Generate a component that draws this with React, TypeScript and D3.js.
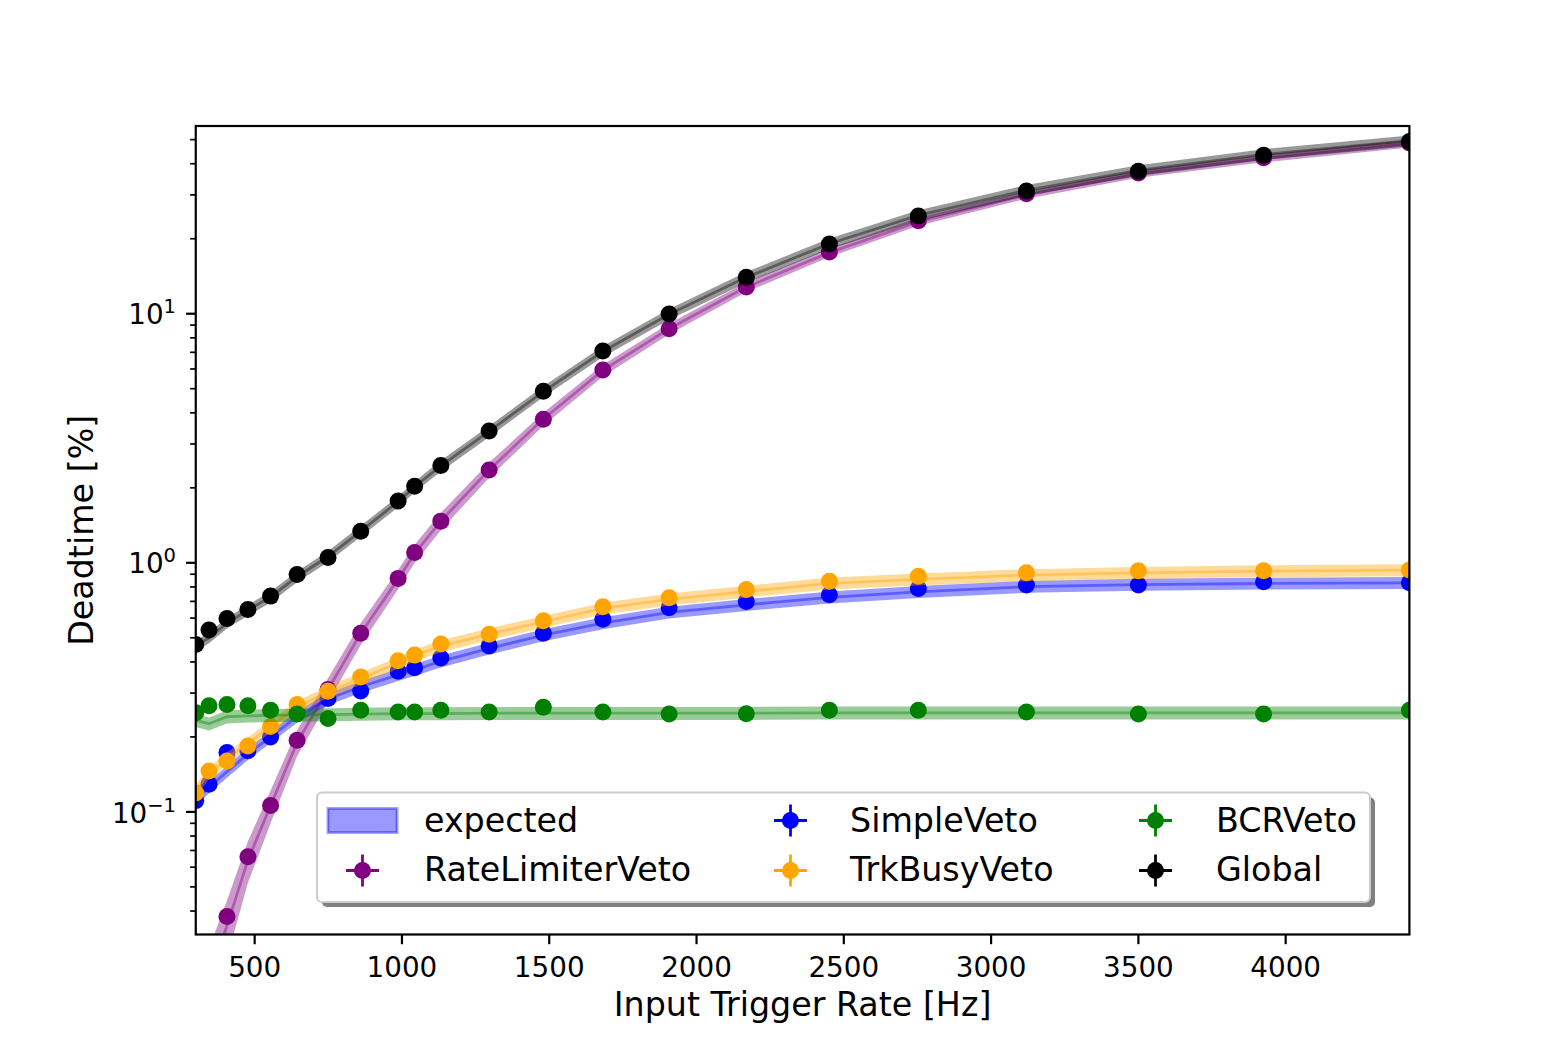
// @ts-nocheck
import React, { useRef, useEffect } from "react";
import * as d3 from "d3";

// input trigger rate [Hz]
const rates = [300, 345, 406, 477, 554, 644, 749, 860, 987, 1043, 1132, 1296, 1480, 1682, 1907, 2169, 2451, 2753, 3120, 3500, 3925, 4420];

// measured deadtime [%]
const rateLimiterVeto = [0.015, 0.024, 0.038, 0.066, 0.106, 0.194, 0.31, 0.521, 0.866, 1.1, 1.47, 2.36, 3.77, 5.94, 8.71, 12.8, 17.7, 23.6, 30.3, 36.7, 42.3, 48.5];
const simpleVeto = [0.111, 0.129, 0.173, 0.176, 0.2, 0.25, 0.285, 0.306, 0.367, 0.379, 0.415, 0.464, 0.521, 0.593, 0.66, 0.7, 0.745, 0.789, 0.814, 0.814, 0.839, 0.831];
const trkBusyVeto = [0.119, 0.146, 0.16, 0.184, 0.22, 0.27, 0.305, 0.348, 0.404, 0.426, 0.472, 0.517, 0.585, 0.666, 0.724, 0.782, 0.844, 0.884, 0.912, 0.929, 0.929, 0.935];
const bcrVeto = [0.25, 0.267, 0.27, 0.267, 0.256, 0.247, 0.237, 0.256, 0.252, 0.252, 0.256, 0.252, 0.263, 0.252, 0.247, 0.248, 0.256, 0.256, 0.252, 0.247, 0.247, 0.256];
const globalVeto = [0.47, 0.537, 0.598, 0.65, 0.735, 0.898, 1.05, 1.34, 1.77, 2.03, 2.46, 3.38, 4.88, 7.08, 9.97, 14.0, 19.05, 24.7, 31.1, 37.3, 43.3, 49.1];

// expected deadtime [%]
const expRateLimiterVeto = [0.013, 0.021, 0.035, 0.064, 0.106, 0.19, 0.31, 0.52, 0.86, 1.09, 1.47, 2.36, 3.78, 5.92, 8.7, 12.8, 17.6, 23.4, 30.0, 36.4, 42.0, 48.2];
const expSimpleVeto = [0.111, 0.126, 0.145, 0.171, 0.2, 0.241, 0.284, 0.318, 0.355, 0.372, 0.402, 0.453, 0.513, 0.573, 0.632, 0.678, 0.727, 0.765, 0.802, 0.818, 0.826, 0.831];
const expTrkBusyVeto = [0.122, 0.143, 0.164, 0.189, 0.22, 0.264, 0.303, 0.343, 0.397, 0.425, 0.463, 0.517, 0.58, 0.656, 0.713, 0.767, 0.827, 0.858, 0.893, 0.912, 0.926, 0.935];
const expBcrVeto = [0.233, 0.226, 0.241, 0.243, 0.244, 0.245, 0.246, 0.247, 0.248, 0.248, 0.248, 0.249, 0.249, 0.249, 0.249, 0.249, 0.25, 0.25, 0.25, 0.25, 0.25, 0.25];
const expGlobalVeto = [0.464, 0.5, 0.573, 0.645, 0.73, 0.879, 1.06, 1.34, 1.76, 2.02, 2.45, 3.37, 4.87, 7.05, 9.95, 14.0, 19.1, 24.8, 31.3, 37.6, 43.6, 49.5];

// relative uncertainty of the expectation
const errRateLimiterVeto = [0.4, 0.35, 0.26, 0.19, 0.15, 0.12, 0.11, 0.1, 0.09, 0.085, 0.08, 0.07, 0.06, 0.055, 0.05, 0.045, 0.04, 0.037, 0.035, 0.035, 0.035, 0.035];
const errSimpleVeto = 0.055;
const errTrkBusyVeto = 0.055;
const errBcrVeto = 0.06;
const errGlobalVeto = 0.05;

const xTicks = [500, 1000, 1500, 2000, 2500, 3000, 3500, 4000];
const yDomain = [0.0322, 56.7];

const series = [
  { name: "RateLimiterVeto", color: "purple", values: rateLimiterVeto, expected: expRateLimiterVeto, err: errRateLimiterVeto },
  { name: "SimpleVeto", color: "blue", values: simpleVeto, expected: expSimpleVeto, err: errSimpleVeto },
  { name: "TrkBusyVeto", color: "orange", values: trkBusyVeto, expected: expTrkBusyVeto, err: errTrkBusyVeto },
  { name: "BCRVeto", color: "green", values: bcrVeto, expected: expBcrVeto, err: errBcrVeto },
  { name: "Global", color: "black", values: globalVeto, expected: expGlobalVeto, err: errGlobalVeto },
];

const FONT = "DejaVu Sans, sans-serif";

const DeadtimeChart = ({ width = 1566, height = 1050 }) => {
  const svgRef = useRef(null);

  useEffect(() => {
    if (!svgRef.current) return;
    const svg = d3.select(svgRef.current);
    svg.selectAll("*").remove();

    const marginTop = 126,
      marginRight = 156.6,
      marginBottom = 115.5,
      marginLeft = 195.75;
    const x0 = marginLeft,
      x1 = width - marginRight,
      y0 = height - marginBottom,
      y1 = marginTop;

    const x = d3.scaleLinear().domain([rates[0], rates[rates.length - 1]]).range([x0, x1]);
    const y = d3.scaleLog().domain(yDomain).range([y0, y1]);

    svg.append("rect").attr("width", width).attr("height", height).attr("fill", "white");

    svg
      .append("defs")
      .append("clipPath")
      .attr("id", "plot-clip")
      .append("rect")
      .attr("x", x0)
      .attr("y", y1)
      .attr("width", x1 - x0)
      .attr("height", y0 - y1);

    const plot = svg.append("g").attr("clip-path", "url(#plot-clip)");

    const relErr = (s, i) => (Array.isArray(s.err) ? s.err[i] : s.err);

    series.forEach((s) => {
      const rows = rates.map((r, i) => ({
        r,
        v: s.values[i],
        e: s.expected[i],
        lo: s.expected[i] * (1 - relErr(s, i)),
        hi: s.expected[i] * (1 + relErr(s, i)),
      }));

      // expected band
      plot
        .append("path")
        .datum(rows)
        .attr("fill", s.color)
        .attr("fill-opacity", 0.4)
        .attr(
          "d",
          d3
            .area()
            .x((d) => x(d.r))
            .y0((d) => y(d.lo))
            .y1((d) => y(d.hi))
        );

      plot
        .append("path")
        .datum(rows)
        .attr("fill", "none")
        .attr("stroke", s.color)
        .attr("stroke-opacity", 0.4)
        .attr("stroke-width", 2.8)
        .attr(
          "d",
          d3
            .line()
            .x((d) => x(d.r))
            .y((d) => y(d.e))
        );

      // measured points
      plot
        .append("g")
        .selectAll("circle")
        .data(rows)
        .join("circle")
        .attr("cx", (d) => x(d.r))
        .attr("cy", (d) => y(d.v))
        .attr("r", 8.5)
        .attr("fill", s.color);
    });

    // spines
    svg
      .append("rect")
      .attr("x", x0)
      .attr("y", y1)
      .attr("width", x1 - x0)
      .attr("height", y0 - y1)
      .attr("fill", "none")
      .attr("stroke", "black")
      .attr("stroke-width", 2.2);

    // x axis
    const xg = svg.append("g");
    xTicks.forEach((t) => {
      xg.append("line")
        .attr("x1", x(t))
        .attr("x2", x(t))
        .attr("y1", y0)
        .attr("y2", y0 + 9.7)
        .attr("stroke", "black")
        .attr("stroke-width", 2.2);
      xg.append("text")
        .attr("x", x(t))
        .attr("y", 977)
        .attr("text-anchor", "middle")
        .attr("font-family", FONT)
        .attr("font-size", 27.8)
        .text(t);
    });

    // y axis (log)
    const yg = svg.append("g");
    y.ticks().forEach((t) => {
      const p = Math.log10(t);
      const major = Math.abs(p - Math.round(p)) < 1e-9;
      yg.append("line")
        .attr("x1", x0)
        .attr("x2", x0 - (major ? 9.7 : 5.6))
        .attr("y1", y(t))
        .attr("y2", y(t))
        .attr("stroke", "black")
        .attr("stroke-width", major ? 2.2 : 1.7);
      if (major) {
        const e = Math.round(p);
        const txt = yg
          .append("text")
          .attr("x", 176)
          .attr("y", y(t) + 10.6)
          .attr("text-anchor", "end")
          .attr("font-family", FONT)
          .attr("font-size", 27.8);
        txt.append("tspan").text("10");
        txt
          .append("tspan")
          .attr("dy", -11)
          .attr("font-size", 19.5)
          .text(e < 0 ? "\u2212" + Math.abs(e) : String(e));
      }
    });

    // axis labels
    svg
      .append("text")
      .attr("x", (x0 + x1) / 2)
      .attr("y", 1016)
      .attr("text-anchor", "middle")
      .attr("font-family", FONT)
      .attr("font-size", 33.3)
      .text("Input Trigger Rate [Hz]");

    svg
      .append("text")
      .attr("transform", `translate(93,${(y0 + y1) / 2}) rotate(-90)`)
      .attr("text-anchor", "middle")
      .attr("font-family", FONT)
      .attr("font-size", 33.3)
      .text("Deadtime [%]");

    // legend
    const lg = svg.append("g");
    const box = { x: 317, y: 792.5, w: 1053, h: 109.5 };
    lg.append("rect")
      .attr("x", box.x + 5)
      .attr("y", box.y + 5)
      .attr("width", box.w)
      .attr("height", box.h)
      .attr("rx", 5)
      .attr("fill", "#808080");
    lg.append("rect")
      .attr("x", box.x)
      .attr("y", box.y)
      .attr("width", box.w)
      .attr("height", box.h)
      .attr("rx", 5)
      .attr("fill", "white")
      .attr("stroke", "#cccccc")
      .attr("stroke-width", 2);

    const colHandle = [362.5, 790.5, 1155.5];
    const colText = [424, 850, 1216];
    const rowCenter = [820.5, 870.5];
    const rowBase = [831.5, 881];

    lg.append("rect")
      .attr("x", colHandle[0] - 34.5)
      .attr("y", rowCenter[0] - 12)
      .attr("width", 69)
      .attr("height", 24)
      .attr("fill", "blue")
      .attr("fill-opacity", 0.4)
      .attr("stroke", "blue")
      .attr("stroke-opacity", 0.4)
      .attr("stroke-width", 2.8);
    lg.append("text")
      .attr("x", colText[0])
      .attr("y", rowBase[0])
      .attr("font-family", FONT)
      .attr("font-size", 33.3)
      .text("expected");

    const slots = [
      [0, 1],
      [1, 0],
      [1, 1],
      [2, 0],
      [2, 1],
    ];
    series.forEach((s, i) => {
      const [c, r] = slots[i];
      const cx = colHandle[c],
        cy = rowCenter[r];
      lg.append("line")
        .attr("x1", cx - 16.5)
        .attr("x2", cx + 16.5)
        .attr("y1", cy)
        .attr("y2", cy)
        .attr("stroke", s.color)
        .attr("stroke-width", 2.8);
      lg.append("line")
        .attr("x1", cx)
        .attr("x2", cx)
        .attr("y1", cy - 16)
        .attr("y2", cy + 16)
        .attr("stroke", s.color)
        .attr("stroke-width", 2.8);
      lg.append("circle").attr("cx", cx).attr("cy", cy).attr("r", 8.5).attr("fill", s.color);
      lg.append("text")
        .attr("x", colText[c])
        .attr("y", rowBase[r])
        .attr("font-family", FONT)
        .attr("font-size", 33.3)
        .text(s.name);
    });
  }, [width, height]);

  return (
    <svg
      ref={svgRef}
      width={width}
      height={height}
      style={{ position: "absolute", left: 0, top: 0 }}
    ></svg>
  );
};

export default function App() {
  return <DeadtimeChart />;
}
